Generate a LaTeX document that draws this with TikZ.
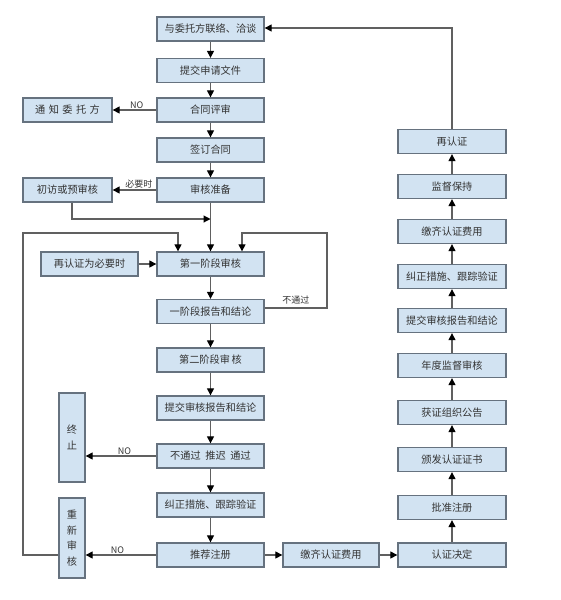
\documentclass[tikz,border=0pt]{standalone}
\usepackage{fontspec}
\setmainfont{Noto Sans CJK SC}
\usetikzlibrary{arrows.meta}
\definecolor{boxfill}{HTML}{D2E3F2}
\definecolor{boxline}{HTML}{66727F}
\definecolor{lnc}{HTML}{606060}
\definecolor{txt}{HTML}{333333}
\begin{document}
\begin{tikzpicture}[x=1pt,y=-1pt,
  box/.style={draw=boxline,line width=1.3pt,fill=boxfill,minimum width=107pt,minimum height=24pt,inner sep=0pt,text=txt,font=\fontsize{10.2}{11}\selectfont},
  vbox/.style={box,minimum width=26pt,align=center,font=\fontsize{10.2}{15.5}\selectfont},
  arr/.style={draw=lnc,line width=1.1pt,-{Triangle[length=7pt,width=7pt,color=black]}},
  ln/.style={draw=lnc,line width=1.1pt},
  lab/.style={text=txt,font=\fontsize{9}{10}\selectfont,inner sep=1pt}]
\useasboundingbox (0,0) rectangle (560,600);
% main column
\node[box] (n1) at (210.5,29) {与委托方联络、洽谈};
\node[box] (n2) at (210.5,70.5) {提交申请文件};
\node[box] (n3) at (210.5,110) {合同评审};
\node[box] (n4) at (210.5,150) {签订合同};
\node[box] (n5) at (210.5,190) {审核准备};
\node[box,minimum width=89pt] (nt) at (67.5,110) {通\,\,知\,\,委\,\,托\,\,方};
\node[box,minimum width=89pt] (pv) at (67.5,190) {初访或预审核};
\node[box] (s1) at (210.5,264) {第一阶段审核};
\node[box,minimum width=97pt] (r1) at (89.5,264) {再认证为必要时};
\node[box] (s1r) at (210.5,311.5) {一阶段报告和结论};
\node[box] (s2) at (210.5,360) {第二阶段审\,核};
\node[box] (rp) at (210.5,408) {提交审核报告和结论};
\node[box] (dc) at (210.5,456) {不通过\ \ 推迟\ \ 通过};
\node[box] (cr) at (210.5,505) {纠正措施、跟踪验证};
\node[box] (rc) at (210.5,555) {推荐注册};
\node[vbox,minimum height=89pt] (st) at (72,437.5) {终\\止};
\node[vbox,minimum height=80pt] (rv) at (72,538) {重\\新\\审\\核};
\node[box,minimum width=96pt] (fe) at (331,555) {缴齐认证费用};
% right column
\node[box,minimum width=108pt] (cd) at (452,555) {认证决定};
\node[box,minimum width=108pt] (ap) at (452,507.5) {批准注册};
\node[box,minimum width=108pt] (is) at (452,459.5) {颁发认证证书};
\node[box,minimum width=108pt] (an) at (452,412.5) {获证组织公告};
\node[box,minimum width=108pt] (au) at (452,365.5) {年度监督审核};
\node[box,minimum width=108pt] (rp2) at (452,320.5) {提交审核报告和结论};
\node[box,minimum width=108pt] (cr2) at (452,276.5) {纠正措施、跟踪验证};
\node[box,minimum width=108pt] (fe2) at (452,231.5) {缴齐认证费用};
\node[box,minimum width=108pt] (sp) at (452,186.5) {监督保持};
\node[box,minimum width=108pt] (rc2) at (452,141.5) {再认证};
% coordinates
\coordinate (j1) at (210.5,219);
\coordinate (a1) at (23,233);
\coordinate (a2) at (178,233);
\coordinate (b1) at (327,308);
\coordinate (b2) at (242,233);
\coordinate (c1) at (452,28);
% connectors
\draw[arr] (n1) -- (n2);
\draw[arr] (n2) -- (n3);
\draw[arr] (n3) -- (n4);
\draw[arr] (n4) -- (n5);
\draw[arr] (n3) -- node[lab,above,pos=0.45] {NO} (nt);
\draw[arr] (n5) -- node[lab,above,pos=0.4] {必要时} (pv);
\draw[arr] (n5) -- (s1);
\draw[arr] (pv.south -| 72,0) |- (j1);
\draw[arr] (rc -| rv.west) -| (a1) -- (a2) -- (s1.north -| a2);
\draw[arr] (r1) -- (s1);
\draw[arr] (s1) -- (s1r);
\draw[arr] (s1r.east |- b1) -- node[lab,above,pos=0.5,yshift=2pt] {不通过} (b1) -- (b1 |- b2) -- (b2) -- (s1.north -| b2);
\draw[arr] (s1r) -- (s2);
\draw[arr] (s2) -- (rp);
\draw[arr] (rp) -- (dc);
\draw[arr] (dc) -- (cr);
\draw[arr] (cr) -- (rc);
\draw[arr] (dc.west) -- node[lab,above,pos=0.45] {NO} (dc.west -| st.east);
\draw[arr] (rc.west) -- node[lab,above,pos=0.55] {NO} (rc.west -| rv.east);
\draw[arr] (rc) -- (fe);
\draw[arr] (fe) -- (cd);
\draw[arr] (cd) -- (ap);
\draw[arr] (ap) -- (is);
\draw[arr] (is) -- (an);
\draw[arr] (an) -- (au);
\draw[arr] (au) -- (rp2);
\draw[arr] (rp2) -- (cr2);
\draw[arr] (cr2) -- (fe2);
\draw[arr] (fe2) -- (sp);
\draw[arr] (sp) -- (rc2);
\draw[arr] (rc2) -- (c1) -- (c1 -| n1.east);
\end{tikzpicture}
\end{document}
